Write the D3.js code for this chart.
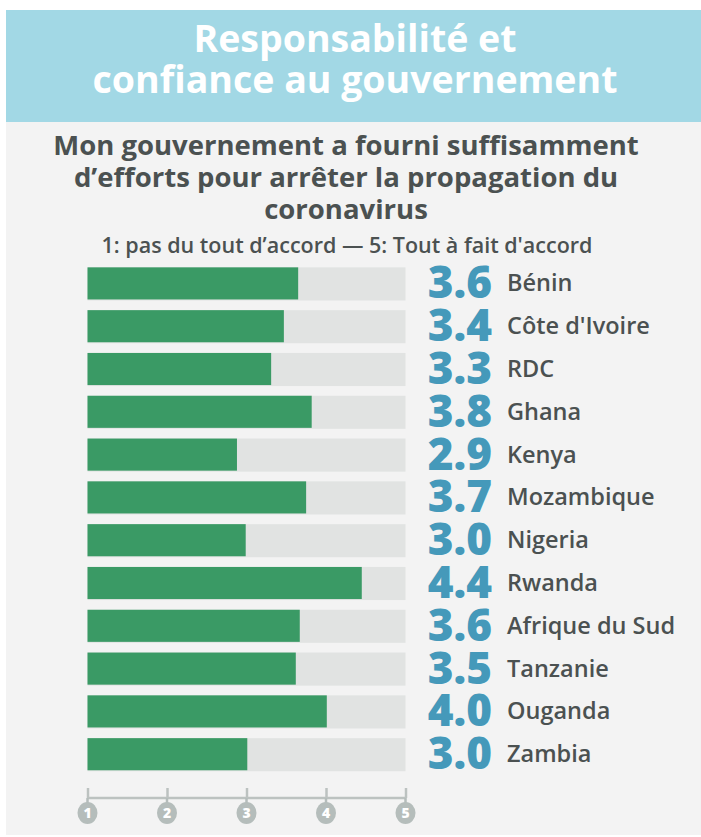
<!DOCTYPE html>
<html>
<head>
<meta charset="utf-8">
<script src="https://cdn.jsdelivr.net/npm/d3@7"></script>
<style>
  body { margin: 0; background: #ffffff; }
  svg { display: block; font-family: "Open Sans", sans-serif; }
</style>
</head>
<body>
<div id="chart"></div>
<script>
var svgWidth = 701;
var svgHeight = 837;

// data
var countries = ["Bénin", "Côte d'Ivoire", "RDC", "Ghana", "Kenya", "Mozambique",
  "Nigeria", "Rwanda", "Afrique du Sud", "Tanzanie", "Ouganda", "Zambia"];
var scores = [3.65, 3.47, 3.31, 3.82, 2.88, 3.75, 2.99, 4.45, 3.67, 3.62, 4.01, 3.01];
var scoreLabels = ["3.6", "3.4", "3.3", "3.8", "2.9", "3.7", "3.0", "4.4", "3.6", "3.5", "4.0", "3.0"];
var axisTicks = [1, 2, 3, 4, 5];

var headerLines = ["Responsabilité et", "confiance au gouvernement"];
var titleLines = ["Mon gouvernement a fourni suffisamment",
  "d\u2019efforts pour arrêter la propagation du", "coronavirus"];
var scaleNote = "1: pas du tout d\u2019accord \u2014 5: Tout à fait d'accord";

var rows = countries.map(function (c, i) {
  return { country: c, score: scores[i], label: scoreLabels[i] };
});

var svg = d3.select("#chart")
  .append("svg")
  .attr("width", svgWidth)
  .attr("height", svgHeight);

// panel + header band
svg.append("rect")
  .attr("x", 6).attr("y", 122)
  .attr("width", svgWidth - 6).attr("height", 713)
  .attr("fill", "#f3f3f3");

svg.append("rect")
  .attr("x", 6).attr("y", 10)
  .attr("width", svgWidth - 6).attr("height", 112)
  .attr("fill", "#a2d8e5");

svg.append("g")
  .selectAll("text")
  .data(headerLines)
  .enter()
  .append("text")
  .attr("x", 355)
  .attr("y", (d, i) => 52 + i * 41)
  .attr("text-anchor", "middle")
  .attr("font-size", "37.5px")
  .attr("font-weight", 700)
  .attr("fill", "#ffffff")
  .text(d => d);

svg.append("g")
  .selectAll("text")
  .data(titleLines)
  .enter()
  .append("text")
  .attr("x", 346)
  .attr("y", (d, i) => 155 + i * 32)
  .attr("text-anchor", "middle")
  .attr("font-size", "27.5px")
  .attr("font-weight", 700)
  .attr("fill", "#4b5151")
  .text(d => d);

svg.append("text")
  .attr("x", 347)
  .attr("y", 253)
  .attr("text-anchor", "middle")
  .attr("font-size", "21.5px")
  .attr("font-weight", 600)
  .attr("fill", "#4b5151")
  .text(scaleNote);

// scales
var x = d3.scaleLinear()
  .domain([1, 5])
  .range([87.5, 405.5]);

var y = d3.scaleBand()
  .domain(countries)
  .range([262, 775.6])
  .paddingInner(0.25)
  .paddingOuter(0.125);

var barGroup = svg.append("g");

// background tracks
barGroup.selectAll("rect.track")
  .data(rows)
  .enter()
  .append("rect")
  .attr("class", "track")
  .attr("x", x(1))
  .attr("y", d => y(d.country))
  .attr("width", x(5) - x(1))
  .attr("height", y.bandwidth() + 1)
  .attr("fill", "#e1e3e2");

barGroup.selectAll("rect.bar")
  .data(rows)
  .enter()
  .append("rect")
  .attr("class", "bar")
  .attr("x", x(1))
  .attr("y", d => y(d.country))
  .attr("width", d => x(d.score) - x(1))
  .attr("height", y.bandwidth())
  .attr("fill", "#3a9a65");

barGroup.selectAll("text.value")
  .data(rows)
  .enter()
  .append("text")
  .attr("class", "value")
  .attr("x", 492)
  .attr("y", d => y(d.country) + y.bandwidth() / 2 + 15)
  .attr("text-anchor", "end")
  .attr("font-size", "44px")
  .attr("font-weight", 800)
  .attr("fill", "#4599ba")
  .text(d => d.label);

barGroup.selectAll("text.country")
  .data(rows)
  .enter()
  .append("text")
  .attr("class", "country")
  .attr("x", 507)
  .attr("y", d => y(d.country) + y.bandwidth() / 2 + 8)
  .attr("font-size", "23.5px")
  .attr("font-weight", 600)
  .attr("fill", "#4b5151")
  .text(d => d.country);

// bottom axis with round tick badges
var axisY = 798;
var axisG = svg.append("g")
  .attr("transform", `translate(0, ${axisY})`)
  .call(d3.axisTop(x).tickValues(axisTicks).tickSize(10).tickFormat(""));

axisG.select(".domain")
  .attr("d", `M${x(1)},0H${x(5)}`)
  .attr("stroke", "#bcc2c0")
  .attr("stroke-width", 2.5);
axisG.selectAll(".tick line")
  .attr("stroke", "#bcc2c0")
  .attr("stroke-width", 2.5);

var badges = svg.append("g")
  .selectAll("g")
  .data(axisTicks)
  .enter()
  .append("g")
  .attr("transform", d => `translate(${x(d)}, ${axisY + 15})`);

badges.append("line")
  .attr("y1", -15).attr("y2", 0)
  .attr("stroke", "#b5bdbb")
  .attr("stroke-width", 2.5);

badges.append("ellipse")
  .attr("rx", 10).attr("ry", 11)
  .attr("fill", "#b5bdbb");

badges.append("text")
  .attr("y", 5)
  .attr("text-anchor", "middle")
  .attr("font-size", "14px")
  .attr("font-weight", 800)
  .attr("fill", "#ffffff")
  .text(d => d);
</script>
</body>
</html>
